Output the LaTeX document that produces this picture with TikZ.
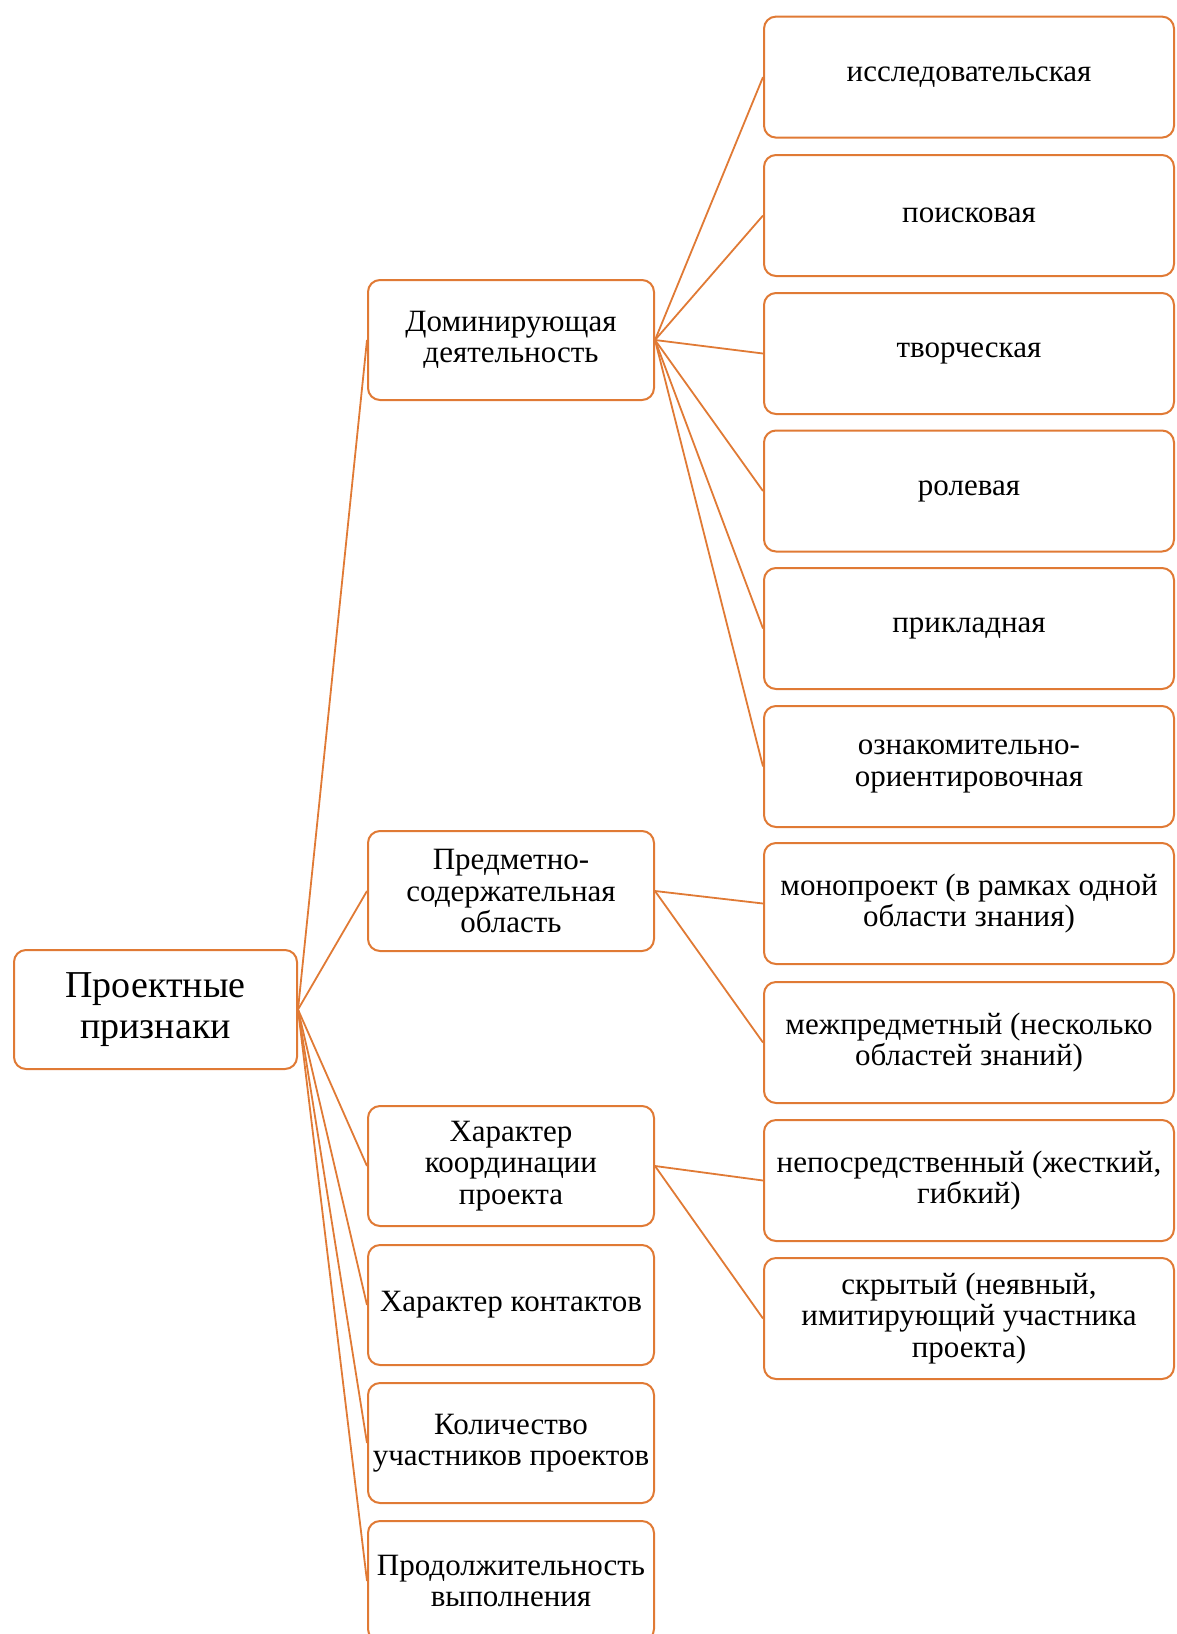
\documentclass[tikz,border=0pt]{standalone}
\usepackage{fontspec}
\setmainfont{Liberation Serif}
\definecolor{acc}{HTML}{E07A35}
\begin{document}
\begin{tikzpicture}[x=1pt,y=-1pt,
  box/.style={draw=acc, line width=2pt, rounded corners=12pt, fill=white, align=center,
    inner sep=1pt, font=\fontsize{31}{31.5}\selectfont, anchor=north west},
  mid/.style={box, minimum width=286pt, minimum height=120pt},
  leaf/.style={box, minimum width=410pt, minimum height=121pt},
  link/.style={draw=acc, line width=1.8pt}]
\useasboundingbox (0,0) rectangle (1176,1634);
\clip (0,0) rectangle (1176,1634);
\node[box, minimum width=283pt, minimum height=119pt, font=\fontsize{38}{40.5}\selectfont] (root) at (13,949) {Проектные\\признаки};
\node[mid] (d1) at (367,279) {Доминирующая\\деятельность};
\node[mid] (d2) at (367,830) {Предметно-\\содержательная\\область};
\node[mid] (d3) at (367,1105) {Характер\\координации\\проекта};
\node[mid] (d4) at (367,1244) {Характер контактов};
\node[mid] (d5) at (367,1382) {Количество\\участников проектов};
\node[mid] (d6) at (367,1520) {Продолжительность\\выполнения};
\node[leaf] (r1) at (763,15.6) {исследовательская};
\node[leaf] (r2) at (763,154) {поисковая};
\node[leaf] (r3) at (763,292) {творческая};
\node[leaf] (r4) at (763,429.5) {ролевая};
\node[leaf] (r5) at (763,567) {прикладная};
\node[leaf] (r6) at (763,705) {ознакомительно-\\ориентировочная};
\node[leaf] (r7) at (763,842) {монопроект (в рамках одной\\области знания)};
\node[leaf] (r8) at (763,981) {межпредметный (несколько\\областей знаний)};
\node[leaf] (r9) at (763,1119) {непосредственный (жесткий,\\гибкий)};
\node[leaf] (r10) at (763,1257) {скрытый (неявный,\\имитирующий участника\\проекта)};
\foreach \t in {d1,d2,d3,d4,d5,d6} \draw[link] (root.east) -- (\t.west);
\foreach \t in {r1,r2,r3,r4,r5,r6} \draw[link] (d1.east) -- (\t.west);
\foreach \t in {r7,r8} \draw[link] (d2.east) -- (\t.west);
\foreach \t in {r9,r10} \draw[link] (d3.east) -- (\t.west);
\end{tikzpicture}
\end{document}
